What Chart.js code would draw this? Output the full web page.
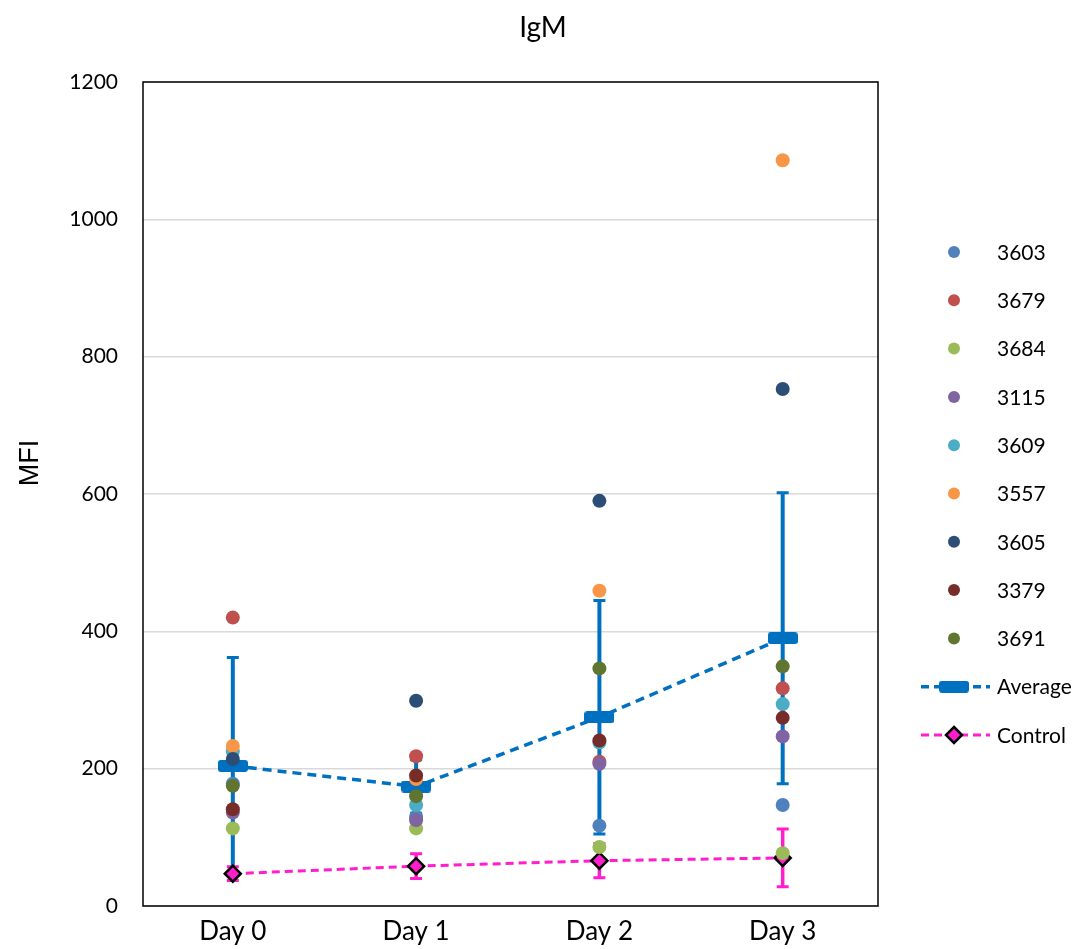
<!DOCTYPE html>
<html lang="en">
<head>
    <meta charset="UTF-8">
    <title>IgM</title>
    <style>
        body {
            margin: 0;
            background-color: #ffffff;
        }
        #igmChart {
            display: block;
        }
    </style>
</head>
<body>
    <canvas id="igmChart" width="1085" height="949"></canvas>

    <script src="https://cdn.jsdelivr.net/npm/chart.js"></script>
    <script>
// values
const days = ['Day 0', 'Day 1', 'Day 2', 'Day 3'];

const s3603 = [178, 130, 117, 147];
const s3679 = [420, 218, 210, 317];
const s3684 = [113, 113, 86, 77];
const s3115 = [136, 125, 207, 247];
const s3609 = [225, 147, 238, 294];
const s3557 = [233, 185, 459, 1086];
const s3605 = [214, 299, 590, 753];
const s3379 = [141, 190, 241, 274];
const s3691 = [175, 160, 346, 349];

const averageVals = [204, 174, 275, 390];
const averageErr = [158, 39, 170, 212];
const controlVals = [47, 58, 66, 70];
const controlErr = [10, 18, 25, 42];

const yTicks = [0, 200, 400, 600, 800, 1000, 1200];

const animalNames = ['3603', '3679', '3684', '3115', '3609', '3557', '3605', '3379', '3691'];
const animalSeries = [s3603, s3679, s3684, s3115, s3609, s3557, s3605, s3379, s3691];
const animalColors = ['#4F81BD', '#C0504D', '#9BBB59', '#8064A2', '#4BACC6', '#F79646', '#2C4D75', '#772C2A', '#5F7530'];

const avgColor = '#0070C0';
const ctrlColor = '#FF1DCE';
const tickFont = 'Lato, "Open Sans", sans-serif';

// rounded blue bar used as the Average marker
function makeAvgMarker(w, h) {
    const c = document.createElement('canvas');
    c.width = w;
    c.height = h;
    const g = c.getContext('2d');
    g.fillStyle = avgColor;
    g.beginPath();
    g.roundRect(0, 0, w, h, 3);
    g.fill();
    return c;
}
const avgMarker = makeAvgMarker(30, 12);

function toPoints(arr) {
    return arr.map((v, i) => ({ x: i, y: v }));
}

const datasets = animalSeries.map((arr, i) => ({
    label: animalNames[i],
    data: toPoints(arr),
    backgroundColor: animalColors[i],
    borderWidth: 0,
    pointRadius: 7,
    pointHoverRadius: 7,
    showLine: false,
    order: 50 - i   // later series drawn on top, like the original
}));

datasets.push({
    label: 'Average',
    data: toPoints(averageVals),
    borderColor: avgColor,
    borderWidth: 3.5,
    borderDash: [9, 6],
    pointStyle: avgMarker,
    showLine: true,
    order: 100
});

datasets.push({
    label: 'Control',
    data: toPoints(controlVals),
    borderColor: ctrlColor,
    borderWidth: 3,
    borderDash: [8, 5],
    pointStyle: 'rectRot',
    pointRadius: 8,
    pointBackgroundColor: ctrlColor,
    pointBorderColor: '#000000',
    pointBorderWidth: 2.5,
    showLine: true,
    order: 99
});

// frame + error bars, under the datasets
const underlayPlugin = {
    id: 'underlay',
    beforeDatasetsDraw(chart) {
        const { ctx, chartArea, scales } = chart;
        ctx.save();
        ctx.strokeStyle = '#000000';
        ctx.lineWidth = 1.5;
        ctx.strokeRect(chartArea.left, chartArea.top, chartArea.right - chartArea.left, chartArea.bottom - chartArea.top);

        function bars(vals, errs, color, width) {
            ctx.strokeStyle = color;
            ctx.lineCap = 'butt';
            vals.forEach((v, i) => {
                const x = scales.x.getPixelForValue(i);
                const yTop = scales.y.getPixelForValue(v + errs[i]);
                const yBot = scales.y.getPixelForValue(v - errs[i]);
                ctx.lineWidth = width;
                ctx.beginPath();
                ctx.moveTo(x, yTop);
                ctx.lineTo(x, yBot);
                ctx.stroke();
                ctx.lineWidth = 3;
                ctx.beginPath();
                ctx.moveTo(x - 6, yTop);
                ctx.lineTo(x + 6, yTop);
                ctx.moveTo(x - 6, yBot);
                ctx.lineTo(x + 6, yBot);
                ctx.stroke();
            });
        }
        bars(averageVals, averageErr, avgColor, 4);
        bars(controlVals, controlErr, ctrlColor, 3.5);
        ctx.restore();
    }
};

// title, axis title and legend
const overlayPlugin = {
    id: 'overlay',
    afterDraw(chart) {
        const ctx = chart.ctx;
        ctx.save();
        ctx.fillStyle = '#000000';
        ctx.textAlign = 'center';
        ctx.textBaseline = 'middle';
        ctx.font = '28px ' + tickFont;
        ctx.fillText('IgM', 543, 28);

        ctx.save();
        ctx.translate(31, 463);
        ctx.rotate(-Math.PI / 2);
        ctx.font = '27px "Liberation Sans", Arial, sans-serif';
        ctx.fillText('MFI', 0, 0);
        ctx.restore();

        // legend
        const mx = 954, tx = 997, y0 = 252, step = 48.3;
        ctx.textAlign = 'left';
        ctx.font = '21px ' + tickFont;
        animalNames.forEach((name, i) => {
            const y = y0 + step * i;
            ctx.fillStyle = animalColors[i];
            ctx.beginPath();
            ctx.arc(mx, y, 6, 0, Math.PI * 2);
            ctx.fill();
            ctx.fillStyle = '#000000';
            ctx.fillText(name, tx, y + 1);
        });

        let y = y0 + step * 9;
        ctx.strokeStyle = avgColor;
        ctx.lineWidth = 3.5;
        ctx.setLineDash([8, 5]);
        ctx.beginPath();
        ctx.moveTo(921, y);
        ctx.lineTo(990, y);
        ctx.stroke();
        ctx.drawImage(avgMarker, mx - 15, y - 6);
        ctx.fillStyle = '#000000';
        ctx.fillText('Average', tx, y + 1);

        y = y0 + step * 10;
        ctx.strokeStyle = ctrlColor;
        ctx.lineWidth = 3;
        ctx.beginPath();
        ctx.moveTo(921, y);
        ctx.lineTo(990, y);
        ctx.stroke();
        ctx.setLineDash([]);
        ctx.fillStyle = ctrlColor;
        ctx.strokeStyle = '#000000';
        ctx.lineWidth = 2.5;
        ctx.beginPath();
        ctx.moveTo(mx, y - 8);
        ctx.lineTo(mx + 8, y);
        ctx.lineTo(mx, y + 8);
        ctx.lineTo(mx - 8, y);
        ctx.closePath();
        ctx.fill();
        ctx.stroke();
        ctx.fillStyle = '#000000';
        ctx.fillText('Control', tx, y + 1);
        ctx.restore();
    }
};

const ctx = document.getElementById('igmChart').getContext('2d');
new Chart(ctx, {
    type: 'scatter',
    data: { datasets: datasets },
    options: {
        responsive: false,
        animation: false,
        layout: {
            padding: { top: 82, right: 207, left: 0, bottom: 0 }
        },
        plugins: {
            legend: { display: false },
            title: { display: false },
            tooltip: { enabled: false }
        },
        scales: {
            x: {
                type: 'linear',
                min: -0.49,
                max: 3.52,
                afterBuildTicks: (scale) => {
                    scale.ticks = days.map((d, i) => ({ value: i }));
                },
                afterFit: (scale) => { scale.height = 43; },
                grid: { display: false, drawTicks: false },
                border: { display: false },
                ticks: {
                    padding: 10,
                    color: '#000000',
                    font: { family: tickFont, size: 26 },
                    callback: (v) => days[v]
                }
            },
            y: {
                min: 0,
                max: 1200,
                afterBuildTicks: (scale) => {
                    scale.ticks = yTicks.map(v => ({ value: v }));
                },
                afterFit: (scale) => { scale.width = 143; },
                grid: { color: '#d9d9d9', lineWidth: 1.5, drawTicks: false },
                border: { display: false },
                ticks: {
                    padding: 25,
                    color: '#000000',
                    font: { family: tickFont, size: 21 },
                    callback: (v) => String(v)
                }
            }
        }
    },
    plugins: [underlayPlugin, overlayPlugin]
});
    </script>
</body>
</html>
